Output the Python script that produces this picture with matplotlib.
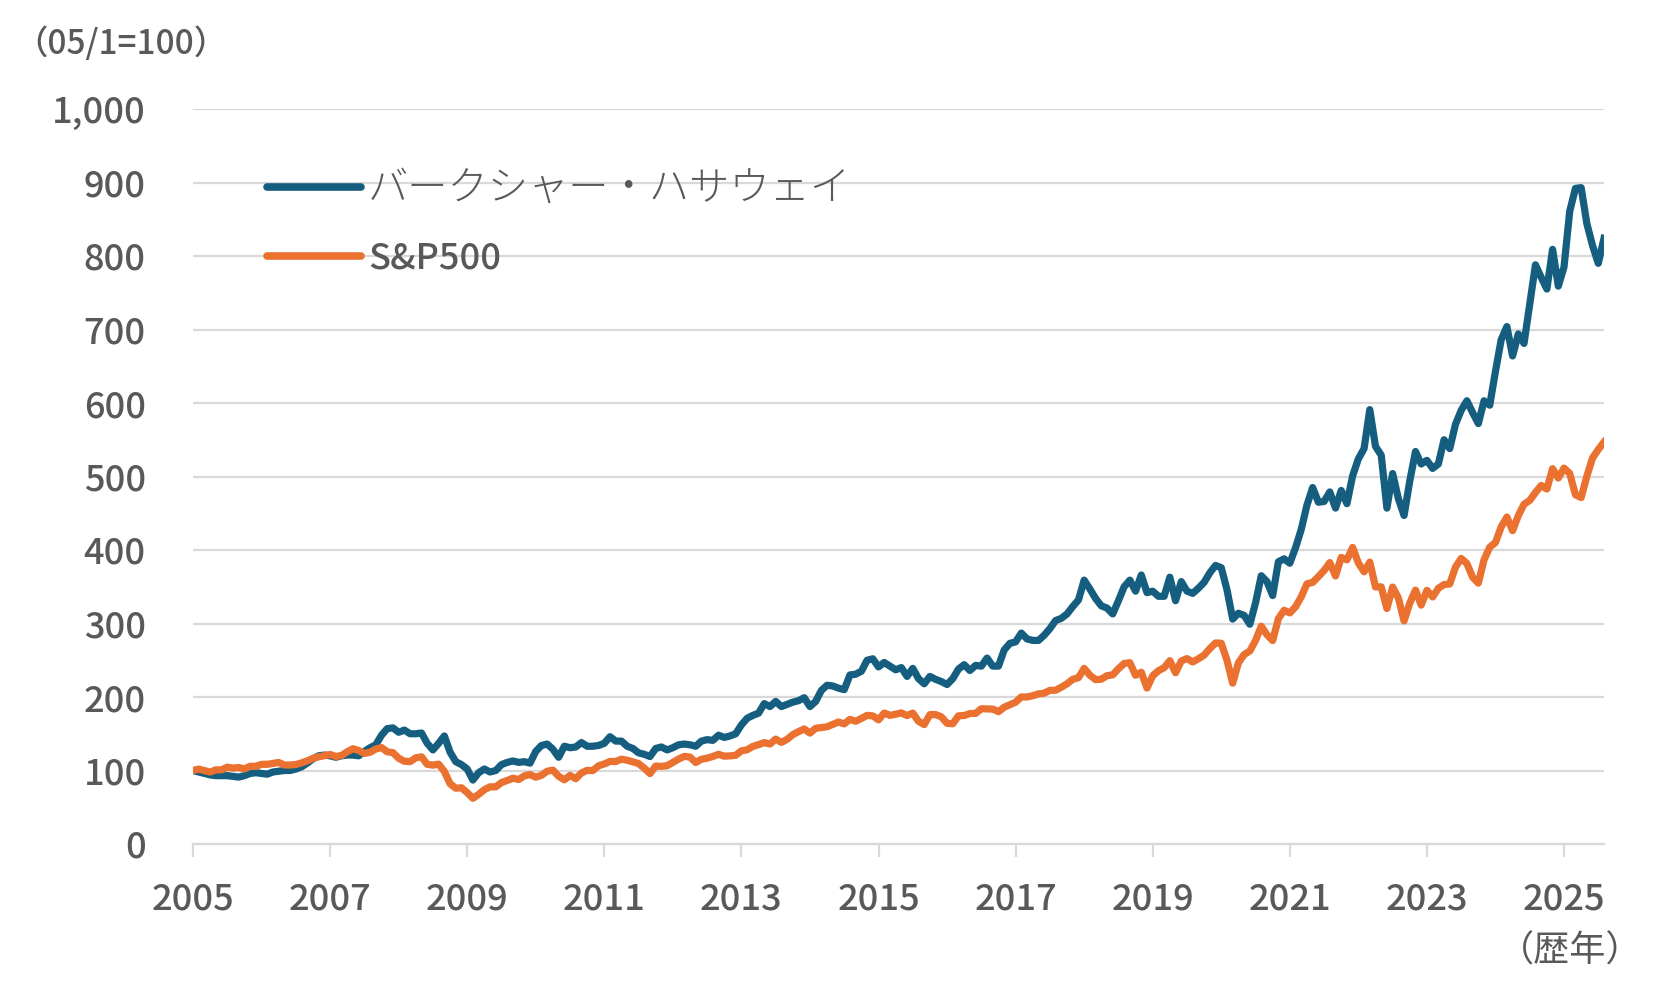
import numpy as np
import matplotlib
matplotlib.use('Agg')
import matplotlib.pyplot as plt
from matplotlib.ticker import FuncFormatter

plt.rcParams['font.family'] = ['Noto Sans CJK JP', 'DejaVu Sans']

# monthly index, Jan 2005 = 100, last point Aug 2025
start_year = 2005

brk = [
    100, 98, 96, 94, 93, 93, 93, 92, 91, 93, 96, 97,           # 2005
    96, 95, 98, 99, 100, 100, 102, 105, 110, 116, 120, 121,    # 2006
    120, 118, 120, 121, 121, 120, 126, 131, 135, 148, 157, 158,  # 2007
    152, 155, 150, 150, 151, 137, 128, 137, 147, 125, 112, 108,  # 2008
    102, 87, 97, 102, 98, 100, 108, 111, 113, 111, 112, 110,   # 2009
    126, 134, 136, 129, 118, 133, 131, 132, 138, 133, 133, 134,  # 2010
    137, 146, 140, 140, 133, 130, 124, 122, 119, 130, 132, 128,  # 2011
    131, 135, 136, 135, 133, 140, 142, 141, 148, 145, 147, 150,  # 2012
    162, 171, 175, 178, 191, 187, 194, 187, 190, 193, 195, 199,  # 2013
    187, 194, 209, 216, 215, 212, 210, 230, 231, 235, 250, 252,  # 2014
    241, 247, 242, 237, 240, 228, 239, 225, 218, 228, 224, 221,  # 2015
    217, 225, 238, 244, 236, 243, 242, 253, 242, 242, 264, 273,  # 2016
    275, 287, 279, 277, 277, 284, 293, 304, 307, 313, 323, 332,  # 2017
    359, 347, 334, 324, 321, 313, 331, 350, 359, 344, 366, 342,  # 2018
    344, 337, 337, 363, 331, 357, 344, 341, 348, 356, 369, 379,  # 2019
    376, 346, 306, 314, 311, 299, 328, 365, 357, 338, 384, 388,  # 2020
    382, 403, 428, 461, 485, 465, 466, 479, 457, 481, 463, 501,  # 2021
    524, 538, 591, 541, 529, 457, 504, 470, 447, 494, 534, 517,  # 2022
    522, 511, 517, 550, 538, 571, 590, 603, 587, 572, 603, 597,  # 2023
    643, 686, 704, 664, 694, 681, 735, 788, 771, 755, 809, 759,  # 2024
    785, 861, 892, 893, 844, 814, 790, 824,                      # 2025
]

spx = [
    100.0, 101.9, 99.9, 97.9, 100.9, 100.8, 104.5, 103.3, 104.0, 102.2, 105.8, 105.7,
    108.4, 108.4, 109.6, 110.9, 107.5, 107.5, 108.1, 110.4, 113.1, 116.6, 118.6, 120.1,
    121.8, 119.1, 120.3, 125.5, 129.6, 127.3, 123.2, 124.8, 129.2, 131.2, 125.4, 124.3,
    116.7, 112.6, 112.0, 117.3, 118.6, 108.4, 107.3, 108.6, 98.7, 82.0, 75.9, 76.5,
    69.9, 62.2, 67.5, 73.9, 77.8, 77.8, 83.6, 86.4, 89.5, 87.7, 92.7, 94.4,
    90.9, 93.5, 99.0, 100.5, 92.2, 87.3, 93.3, 88.8, 96.6, 100.2, 99.9, 106.5,
    108.9, 112.4, 112.2, 115.4, 113.9, 111.8, 109.4, 103.2, 95.8, 106.1, 105.6, 106.5,
    111.1, 115.6, 119.2, 118.3, 110.9, 115.3, 116.8, 119.1, 122.0, 119.5, 119.9, 120.7,
    126.8, 128.2, 132.8, 135.2, 138.0, 136.0, 142.7, 138.2, 142.4, 148.7, 152.9, 156.5,
    150.9, 157.4, 158.5, 159.5, 162.8, 165.9, 163.4, 169.6, 167.0, 170.8, 175.0, 174.3,
    168.9, 178.2, 175.1, 176.5, 178.4, 174.7, 178.1, 167.0, 162.5, 176.0, 176.1, 173.0,
    164.2, 163.6, 174.4, 174.8, 177.5, 177.7, 184.0, 183.8, 183.6, 180.0, 186.1, 189.5,
    192.9, 200.1, 200.0, 201.8, 204.2, 205.2, 209.1, 209.2, 213.3, 218.0, 224.1, 226.3,
    239.0, 229.7, 223.6, 224.2, 229.0, 230.1, 238.4, 245.6, 246.7, 229.6, 233.7, 212.2,
    228.9, 235.7, 239.9, 249.4, 233.0, 249.0, 252.3, 247.7, 252.0, 257.1, 265.9, 273.5,
    273.1, 250.1, 218.8, 246.5, 257.7, 262.5, 276.9, 296.3, 284.7, 276.8, 306.6, 318.0,
    314.4, 322.6, 336.3, 354.0, 355.9, 363.8, 372.1, 382.9, 364.6, 389.9, 386.6, 403.5,
    382.3, 370.3, 383.5, 349.8, 349.8, 320.4, 349.6, 334.8, 303.5, 327.8, 345.4, 325.0,
    345.1, 336.1, 347.9, 353.0, 353.8, 376.7, 388.5, 381.6, 363.0, 355.0, 386.7, 403.8,
    410.2, 431.4, 444.8, 426.3, 446.8, 462.3, 467.5, 478.2, 487.8, 483.0, 510.7, 497.9,
    511.4, 504.1, 475.1, 471.4, 500.5, 525.3, 536.7, 546.9,
]

series_names = ['バークシャー・ハサウェイ', 'S&P500']
year_ticks = list(range(2005, 2026, 2))
value_ticks = list(range(0, 1001, 100))
unit_text = '（05/1=100）'
axis_text = '（歴年）'

blue = '#165E80'
orange = '#EA7130'
grey_text = '#595959'
grid_col = '#D9D9D9'

x = start_year + np.arange(len(brk)) / 12

fig = plt.figure(figsize=(16.63, 9.9), dpi=100)
ax = fig.add_axes([193 / 1663, 1 - 844 / 990, (1604 - 193) / 1663, (844 - 109) / 990])

ax.plot(x, brk, color=blue, lw=5.2, label=series_names[0], solid_joinstyle='round', zorder=3)
ax.plot(x, spx, color=orange, lw=5.2, label=series_names[1], solid_joinstyle='round', zorder=3)

ax.set_xlim(x[0], x[-1])
ax.set_ylim(0, 1000)
ax.set_xticks(year_ticks)
ax.set_xticklabels([str(y) for y in year_ticks])
ax.set_yticks(value_ticks)
ax.yaxis.set_major_formatter(FuncFormatter(lambda v, p: f'{int(v):,}'))

ax.grid(axis='y', color=grid_col, lw=1.6)
ax.set_axisbelow(True)
for s in ['top', 'right', 'left']:
    ax.spines[s].set_visible(False)
ax.spines['bottom'].set_color(grid_col)
ax.spines['bottom'].set_linewidth(1.6)
ax.spines['bottom'].set_zorder(2)

ax.tick_params(axis='x', direction='out', length=9, width=1.6, color=grid_col,
               labelsize=26, labelcolor=grey_text, pad=18)
ax.tick_params(axis='y', length=0, labelsize=26, labelcolor=grey_text, pad=34)
for lab in ax.get_xticklabels() + ax.get_yticklabels():
    lab.set_fontweight('medium')

leg = ax.legend(loc='upper left', bbox_to_anchor=(267 / 1663, 1 - 168 / 990),
                bbox_transform=fig.transFigure, frameon=False, fontsize=26,
                handlelength=2.6, handletextpad=0.2, labelspacing=0.84,
                borderpad=0, borderaxespad=0, labelcolor=grey_text)
for line in leg.get_lines():
    line.set_linewidth(5.5)
    line.set_solid_capstyle('round')
leg.get_texts()[0].set_fontweight('light')
leg.get_texts()[0].set_fontsize(29)
leg.get_texts()[1].set_fontweight('medium')

fig.text(14 / 1663, 1 - 44 / 990, unit_text, fontsize=24, color=grey_text,
         ha='left', va='center', fontweight='medium')
fig.text(1642 / 1663, 1 - 952 / 990, axis_text, fontsize=26, color=grey_text,
         ha='right', va='center')

fig.savefig('out.png', dpi=100)
